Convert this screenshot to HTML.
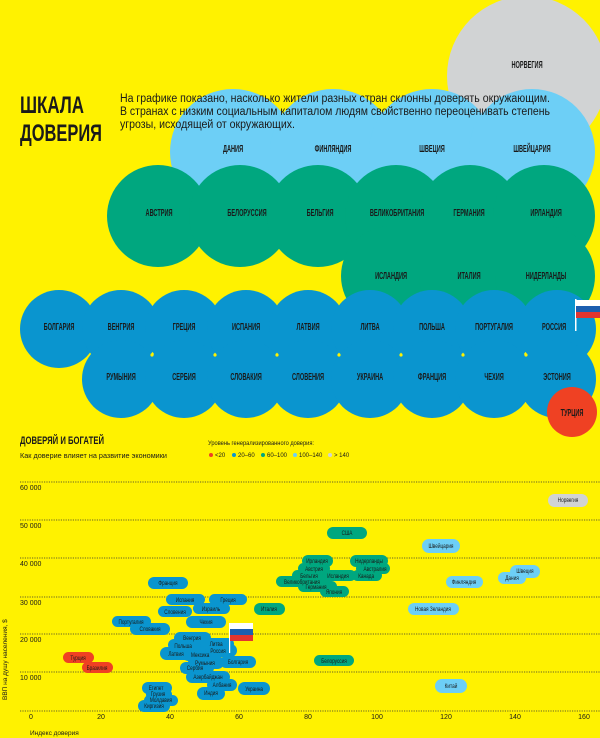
<!DOCTYPE html>
<html><head><meta charset="utf-8"><style>
html,body{margin:0;padding:0;background:#fff200;}
svg{display:block;}
text{font-family:"Liberation Sans Narrow","Liberation Sans",sans-serif;fill:#1a1a1a;}
.b{font-size:10px;font-weight:bold;text-anchor:middle;transform-box:fill-box;transform-origin:center;transform:scaleX(.56);}
.p{font-size:6.5px;text-anchor:middle;transform-box:fill-box;transform-origin:center;transform:scaleX(.72);}
.ax{font-size:7px;fill:#333;}
</style></head><body>
<svg width="600" height="738" viewBox="0 0 600 738" xmlns="http://www.w3.org/2000/svg">
<rect width="600" height="738" fill="#fff200"/>
<circle cx="527" cy="76" r="80" fill="#d1d3d4"/>
<text class="b" x="527" y="68">НОРВЕГИЯ</text>
<g fill="#6dcff6">
<circle cx="233" cy="152" r="63"/><circle cx="333" cy="152" r="63"/><circle cx="432" cy="152" r="63"/><circle cx="532" cy="152" r="63"/>
<rect x="233" y="152" width="299" height="63"/>
</g>
<text x="20" y="113" style="font-size:24px;font-weight:bold" textLength="64" lengthAdjust="spacingAndGlyphs">ШКАЛА</text>
<text x="20" y="141" style="font-size:24px;font-weight:bold" textLength="82" lengthAdjust="spacingAndGlyphs">ДОВЕРИЯ</text>
<text x="120" y="102" style="font-size:11.5px" textLength="430" lengthAdjust="spacingAndGlyphs">На графике показано, насколько жители разных стран склонны доверять окружающим.</text>
<text x="120" y="115" style="font-size:11.5px" textLength="430" lengthAdjust="spacingAndGlyphs">В странах с низким социальным капиталом людям свойственно переоценивать степень</text>
<text x="120" y="128" style="font-size:11.5px" textLength="175" lengthAdjust="spacingAndGlyphs">угрозы, исходящей от окружающих.</text>
<text class="b" x="233" y="152">ДАНИЯ</text>
<text class="b" x="333" y="152">ФИНЛЯНДИЯ</text>
<text class="b" x="432" y="152">ШВЕЦИЯ</text>
<text class="b" x="532" y="152">ШВЕЙЦАРИЯ</text>
<g fill="#00a77f">
<circle cx="158" cy="216" r="51"/><circle cx="240" cy="216" r="51"/><circle cx="318" cy="216" r="51"/><circle cx="396" cy="216" r="51"/><circle cx="470" cy="216" r="51"/><circle cx="544" cy="216" r="51"/>
<circle cx="391" cy="276" r="50"/><circle cx="469" cy="276" r="50"/><circle cx="545" cy="276" r="50"/>
<rect x="391" y="216" width="154" height="60"/>
</g>
<text class="b" x="159" y="216">АВСТРИЯ</text>
<text class="b" x="247" y="216">БЕЛОРУССИЯ</text>
<text class="b" x="320" y="216">БЕЛЬГИЯ</text>
<text class="b" x="397" y="216">ВЕЛИКОБРИТАНИЯ</text>
<text class="b" x="469" y="216">ГЕРМАНИЯ</text>
<text class="b" x="546" y="216">ИРЛАНДИЯ</text>
<text class="b" x="391" y="279">ИСЛАНДИЯ</text>
<text class="b" x="469" y="279">ИТАЛИЯ</text>
<text class="b" x="546" y="279">НИДЕРЛАНДЫ</text>
<g fill="#0a95cf">
<circle cx="59" cy="329" r="39"/><circle cx="121" cy="329" r="39"/><circle cx="184" cy="329" r="39"/><circle cx="246" cy="329" r="39"/><circle cx="308" cy="329" r="39"/><circle cx="370" cy="329" r="39"/><circle cx="432" cy="329" r="39"/><circle cx="494" cy="329" r="39"/><circle cx="557" cy="329" r="39"/>
<circle cx="121" cy="379" r="39"/><circle cx="184" cy="379" r="39"/><circle cx="246" cy="379" r="39"/><circle cx="308" cy="379" r="39"/><circle cx="370" cy="379" r="39"/><circle cx="432" cy="379" r="39"/><circle cx="494" cy="379" r="39"/><circle cx="557" cy="379" r="39"/>
</g>
<g fill="#fff200">
<circle cx="152" cy="355" r="1.6"/><circle cx="215" cy="355" r="1.6"/><circle cx="277" cy="355" r="1.6"/><circle cx="339" cy="355" r="1.6"/><circle cx="401" cy="355" r="1.6"/><circle cx="463" cy="355" r="1.6"/><circle cx="526" cy="355" r="1.6"/>
</g>
<text class="b" x="59" y="330">БОЛГАРИЯ</text><text class="b" x="121" y="330">ВЕНГРИЯ</text><text class="b" x="184" y="330">ГРЕЦИЯ</text><text class="b" x="246" y="330">ИСПАНИЯ</text><text class="b" x="308" y="330">ЛАТВИЯ</text><text class="b" x="370" y="330">ЛИТВА</text><text class="b" x="432" y="330">ПОЛЬША</text><text class="b" x="494" y="330">ПОРТУГАЛИЯ</text><text class="b" x="554" y="330">РОССИЯ</text>
<text class="b" x="121" y="380">РУМЫНИЯ</text><text class="b" x="184" y="380">СЕРБИЯ</text><text class="b" x="246" y="380">СЛОВАКИЯ</text><text class="b" x="308" y="380">СЛОВЕНИЯ</text><text class="b" x="370" y="380">УКРАИНА</text><text class="b" x="432" y="380">ФРАНЦИЯ</text><text class="b" x="494" y="380">ЧЕХИЯ</text><text class="b" x="557" y="380">ЭСТОНИЯ</text>
<rect x="575" y="299" width="1.5" height="32" fill="#fff"/>
<rect x="576" y="300" width="24" height="6" fill="#fff"/><rect x="576" y="306" width="24" height="6" fill="#1c5fb0"/><rect x="576" y="312" width="24" height="6" fill="#e3342f"/>
<circle cx="572" cy="412" r="25" fill="#ef4123"/>
<text class="b" x="572" y="416">ТУРЦИЯ</text>

<text x="20" y="444" style="font-size:11px;font-weight:bold" textLength="84" lengthAdjust="spacingAndGlyphs">ДОВЕРЯЙ И БОГАТЕЙ</text>
<text x="20" y="458" style="font-size:7.5px" textLength="147" lengthAdjust="spacingAndGlyphs">Как доверие влияет на развитие экономики</text>
<text x="208" y="445" style="font-size:6px" textLength="106" lengthAdjust="spacingAndGlyphs">Уровень генерализированного доверия:</text>
<g style="font-size:6px">
<circle cx="211" cy="455" r="2" fill="#ef4123"/><text x="215" y="457">&lt;20</text>
<circle cx="234" cy="455" r="2" fill="#0a95cf"/><text x="238" y="457">20–60</text>
<circle cx="263" cy="455" r="2" fill="#00a77f"/><text x="267" y="457">60–100</text>
<circle cx="295" cy="455" r="2" fill="#6dcff6"/><text x="299" y="457">100–140</text>
<circle cx="330" cy="455" r="2" fill="#d1d3d4"/><text x="334" y="457">&gt; 140</text>
</g>
<g stroke="#333" stroke-width="0.8" stroke-dasharray="1.2,1.2">
<line x1="20" y1="482" x2="600" y2="482"/><line x1="20" y1="520" x2="600" y2="520"/><line x1="20" y1="558" x2="600" y2="558"/><line x1="20" y1="597" x2="600" y2="597"/><line x1="20" y1="634" x2="600" y2="634"/><line x1="20" y1="672" x2="600" y2="672"/><line x1="20" y1="711" x2="600" y2="711"/>
</g>
<g class="ax">
<text x="20" y="490">60 000</text><text x="20" y="528">50 000</text><text x="20" y="566">40 000</text><text x="20" y="605">30 000</text><text x="20" y="642">20 000</text><text x="20" y="680">10 000</text>
</g>
<g class="ax" text-anchor="middle">
<text x="31" y="719">0</text><text x="101" y="719">20</text><text x="170" y="719">40</text><text x="239" y="719">60</text><text x="308" y="719">80</text><text x="377" y="719">100</text><text x="446" y="719">120</text><text x="515" y="719">140</text><text x="584" y="719">160</text>
</g>
<text x="30" y="735" style="font-size:6.5px">Индекс доверия</text>
<text transform="translate(7,700) rotate(-90)" style="font-size:6.5px">ВВП на душу населения, $</text>

<g fill="#d1d3d4"><rect x="548" y="494" width="40" height="13" rx="6.5"/></g>
<g fill="#6dcff6">
<rect x="422" y="539" width="38" height="14" rx="7"/>
<rect x="446" y="576" width="37" height="12" rx="6"/>
<rect x="510" y="565" width="30" height="13" rx="6.5"/>
<rect x="498" y="572" width="28" height="12" rx="6"/>
<rect x="408" y="603" width="51" height="12" rx="6"/>
<rect x="435" y="679" width="32" height="14" rx="7"/>
</g>
<g fill="#00a77f">
<rect x="327" y="527" width="40" height="12" rx="6"/>
<rect x="302" y="555" width="31" height="12" rx="6"/>
<rect x="350" y="555" width="38" height="12" rx="6"/>
<rect x="298" y="563" width="32" height="11" rx="5.5"/>
<rect x="356" y="563" width="34" height="11" rx="5.5"/>
<rect x="292" y="570" width="36" height="11" rx="5.5"/>
<rect x="322" y="570" width="34" height="11" rx="5.5"/>
<rect x="352" y="570" width="30" height="11" rx="5.5"/>
<rect x="276" y="576" width="53" height="11" rx="5.5"/>
<rect x="298" y="581" width="39" height="11" rx="5.5"/>
<rect x="320" y="586" width="29" height="11" rx="5.5"/>
<rect x="254" y="603" width="31" height="12" rx="6"/>
<rect x="314" y="655" width="40" height="11" rx="5.5"/>
</g>
<g fill="#0a95cf">
<rect x="148" y="577" width="40" height="12" rx="6"/>
<rect x="166" y="594" width="39" height="11" rx="5.5"/>
<rect x="209" y="594" width="38" height="11" rx="5.5"/>
<rect x="193" y="603" width="37" height="11" rx="5.5"/>
<rect x="158" y="606" width="34" height="11" rx="5.5"/>
<rect x="112" y="616" width="39" height="11" rx="5.5"/>
<rect x="130" y="623" width="40" height="12" rx="6"/>
<rect x="186" y="616" width="40" height="12" rx="6"/>
<rect x="174" y="632" width="37" height="12" rx="6"/>
<rect x="168" y="639" width="36" height="12" rx="6"/>
<rect x="200" y="638" width="34" height="12" rx="6"/>
<rect x="160" y="647" width="36" height="13" rx="6.5"/>
<rect x="182" y="648" width="38" height="13" rx="6.5"/>
<rect x="205" y="644" width="32" height="13" rx="6.5"/>
<rect x="188" y="656" width="36" height="13" rx="6.5"/>
<rect x="220" y="656" width="36" height="12" rx="6"/>
<rect x="180" y="662" width="34" height="12" rx="6"/>
<rect x="186" y="671" width="44" height="12" rx="6"/>
<rect x="207" y="679" width="30" height="12" rx="6"/>
<rect x="197" y="687" width="28" height="13" rx="6.5"/>
<rect x="238" y="682" width="32" height="13" rx="6.5"/>
<rect x="142" y="682" width="30" height="12" rx="6"/>
<rect x="146" y="689" width="26" height="11" rx="5.5"/>
<rect x="144" y="695" width="34" height="11" rx="5.5"/>
<rect x="138" y="700" width="32" height="12" rx="6"/>
</g>
<g fill="#ef4123">
<rect x="63" y="652" width="31" height="11" rx="5.5"/>
<rect x="82" y="662" width="31" height="11" rx="5.5"/>
</g>
<rect x="229" y="623" width="1.2" height="30" fill="#fff"/>
<rect x="230" y="623" width="23" height="6" fill="#fff"/><rect x="230" y="629" width="23" height="6" fill="#1c5fb0"/><rect x="230" y="635" width="23" height="6" fill="#e3342f"/>
<g>
<text class="p" x="568" y="502">Норвегия</text>
<text class="p" x="347" y="535">США</text>
<text class="p" x="441" y="548">Швейцария</text>
<text class="p" x="317" y="563">Ирландия</text>
<text class="p" x="369" y="563">Нидерланды</text>
<text class="p" x="314" y="571">Австрия</text>
<text class="p" x="375" y="571">Австралия</text>
<text class="p" x="309" y="578">Бельгия</text>
<text class="p" x="338" y="578">Исландия</text>
<text class="p" x="366" y="578">Канада</text>
<text class="p" x="302" y="584">Великобритания</text>
<text class="p" x="316" y="589">Германия</text>
<text class="p" x="334" y="594">Япония</text>
<text class="p" x="525" y="573">Швеция</text>
<text class="p" x="512" y="580">Дания</text>
<text class="p" x="464" y="584">Финляндия</text>
<text class="p" x="168" y="585">Франция</text>
<text class="p" x="185" y="602">Испания</text>
<text class="p" x="228" y="602">Греция</text>
<text class="p" x="211" y="611">Израиль</text>
<text class="p" x="175" y="614">Словения</text>
<text class="p" x="269" y="611">Италия</text>
<text class="p" x="433" y="611">Новая Зеландия</text>
<text class="p" x="131" y="624">Португалия</text>
<text class="p" x="150" y="631">Словакия</text>
<text class="p" x="206" y="624">Чехия</text>
<text class="p" x="192" y="640">Венгрия</text>
<text class="p" x="216" y="646">Литва</text>
<text class="p" x="183" y="648">Польша</text>
<text class="p" x="218" y="653">Россия</text>
<text class="p" x="176" y="656">Латвия</text>
<text class="p" x="200" y="657">Мексика</text>
<text class="p" x="238" y="664">Болгария</text>
<text class="p" x="205" y="665">Румыния</text>
<text class="p" x="195" y="670">Сербия</text>
<text class="p" x="334" y="663">Белоруссия</text>
<text class="p" x="208" y="679">Азербайджан</text>
<text class="p" x="222" y="687">Албания</text>
<text class="p" x="211" y="695">Индия</text>
<text class="p" x="254" y="691">Украина</text>
<text class="p" x="451" y="688">Китай</text>
<text class="p" x="78" y="660">Турция</text>
<text class="p" x="97" y="670">Бразилия</text>
<text class="p" x="156" y="690">Египет</text>
<text class="p" x="158" y="696">Грузия</text>
<text class="p" x="161" y="702">Молдавия</text>
<text class="p" x="154" y="708">Киргизия</text>
</g>
</svg>
</body></html>
